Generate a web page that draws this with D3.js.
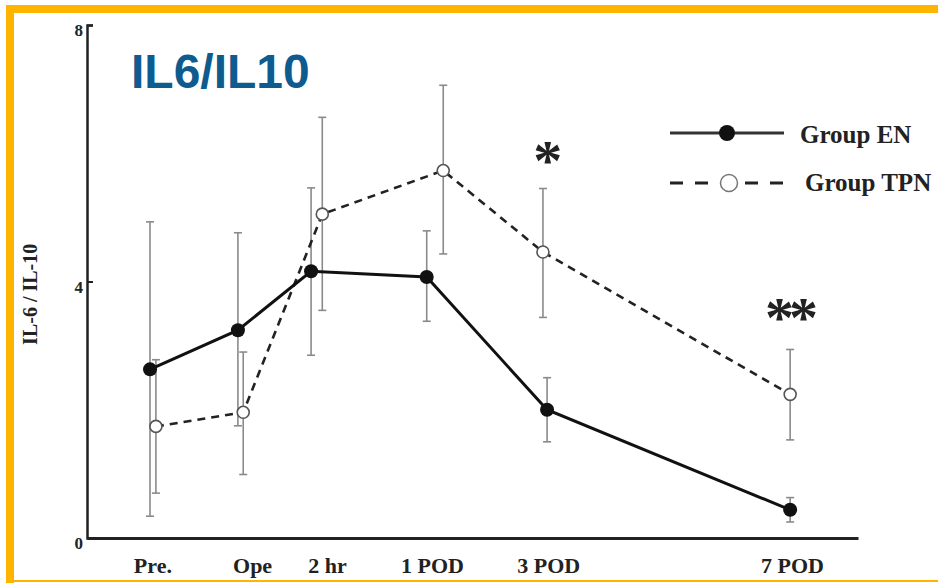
<!DOCTYPE html>
<html>
<meta charset="utf-8">
<style>
  body { margin: 0; background: #fff; }
  svg { display: block; }
</style>

<body>
  <script src="https://d3js.org/d3.v7.min.js"></script>

  <script>
    var width = 938,
        height = 583;

    // time points (x tick labels) and where they sit on the stretched time axis
    const categories = ["Pre.", "Ope", "2 hr", "1 POD", "3 POD", "7 POD"];
    const tickTime = [0.04, 1.73, 3.0, 4.78, 6.75, 10.88];

    // sampling times of each group on the same axis
    const enTime  = [0, 1.49, 2.73, 4.69, 6.73, 10.85];
    const tpnTime = [0.10, 1.58, 2.92, 4.97, 6.66, 10.85];

    // Group EN: mean, upper and lower error bar ends
    const enMean  = [2.63, 3.24, 4.16, 4.07, 2.0, 0.44];
    const enHigh  = [4.93, 4.76, 5.46, 4.79, 2.5, 0.63];
    const enLow   = [0.34, 1.75, 2.85, 3.38, 1.5, 0.25];

    // Group TPN
    const tpnMean = [1.74, 1.96, 5.05, 5.73, 4.46, 2.24];
    const tpnHigh = [2.78, 2.9, 6.56, 7.06, 5.45, 2.94];
    const tpnLow  = [0.7, 0.99, 3.55, 4.43, 3.44, 1.53];

    const yTicks = [0, 4, 8];

    // significance marks
    const sigCategory = ["3 POD", "7 POD"];
    const sigLabel = ["*", "**"];
    const sigValue = [6.0, 3.55];

    var svg = d3.select("body")
      .append("svg")
        .attr("width", width)
        .attr("height", height);

    // orange frame of the slide
    const frame = "#ffb400";
    svg.append("rect").attr("x", 6).attr("y", 5).attr("width", width - 6).attr("height", 8).attr("fill", frame);
    svg.append("rect").attr("x", 6).attr("y", 5).attr("width", 8).attr("height", height - 5).attr("fill", frame);
    svg.append("rect").attr("x", 6).attr("y", 580).attr("width", width - 6).attr("height", 2).attr("fill", frame);

    var x = d3.scaleLinear().domain([-1.068, 12.0]).range([87, 858]);
    var y = d3.scaleLinear().domain([0, 8]).range([538, 25]);

    const serif = "'Liberation Serif', 'DejaVu Serif', serif";

    // y axis
    const yAxis = svg.append("g")
      .attr("transform", `translate(${x(-1.068)},0)`)
      .call(d3.axisRight(y).tickValues(yTicks.filter(d => d > 0)).tickSize(6).tickFormat(""));
    yAxis.select(".domain").attr("stroke", "#222").attr("stroke-width", 2.5);
    yAxis.selectAll(".tick line").attr("stroke", "#222").attr("stroke-width", 2);

    svg.append("g")
      .selectAll("text")
      .data(yTicks)
      .join("text")
        .attr("x", 83)
        .attr("y", d => y(d) + 11)
        .attr("text-anchor", "end")
        .style("font", `bold 17px ${serif}`)
        .attr("fill", "#222")
        .text(d => d);

    // x axis: plain line with labels
    const xAxis = svg.append("g")
      .attr("transform", `translate(0,${y(0)})`)
      .call(d3.axisBottom(x).tickValues(tickTime).tickSize(0).tickFormat((d, i) => categories[i]));
    xAxis.select(".domain").attr("stroke", "#222").attr("stroke-width", 3);
    xAxis.selectAll(".tick text")
      .attr("dy", 0)
      .attr("y", 35)
      .attr("fill", "#222")
      .style("font", `bold 22px ${serif}`);

    // y axis title
    svg.append("text")
      .attr("transform", `translate(37,${y(3.8)}) rotate(-90)`)
      .attr("text-anchor", "middle")
      .style("font", `bold 20px ${serif}`)
      .attr("fill", "#222")
      .text("IL-6 / IL-10");

    // chart title
    svg.append("text")
      .attr("x", 131)
      .attr("y", 88)
      .style("font", "bold 48px 'Liberation Sans', Arial, sans-serif")
      .attr("fill", "#0d5b8f")
      .text("IL6/IL10");

    const en = enMean.map((v, i) => ({t: enTime[i], v: v, hi: enHigh[i], lo: enLow[i]}));
    const tpn = tpnMean.map((v, i) => ({t: tpnTime[i], v: v, hi: tpnHigh[i], lo: tpnLow[i]}));

    // error bars
    function errorBars(data) {
      const g = svg.append("g").attr("stroke", "#8a8a8a").attr("stroke-width", 1.6);
      g.selectAll(".bar").data(data).join("line")
        .attr("x1", d => x(d.t)).attr("x2", d => x(d.t))
        .attr("y1", d => y(d.hi)).attr("y2", d => y(d.lo));
      g.selectAll(".capTop").data(data).join("line")
        .attr("x1", d => x(d.t) - 4).attr("x2", d => x(d.t) + 4)
        .attr("y1", d => y(d.hi)).attr("y2", d => y(d.hi));
      g.selectAll(".capBottom").data(data).join("line")
        .attr("x1", d => x(d.t) - 4).attr("x2", d => x(d.t) + 4)
        .attr("y1", d => y(d.lo)).attr("y2", d => y(d.lo));
    }
    errorBars(en);
    errorBars(tpn);

    const line = d3.line().x(d => x(d.t)).y(d => y(d.v));

    svg.append("path")
      .datum(tpn)
      .attr("fill", "none")
      .attr("stroke", "#222")
      .attr("stroke-width", 2.6)
      .attr("stroke-dasharray", "8,6")
      .attr("d", line);

    svg.append("path")
      .datum(en)
      .attr("fill", "none")
      .attr("stroke", "#111")
      .attr("stroke-width", 3)
      .attr("d", line);

    svg.append("g")
      .selectAll("circle")
      .data(en)
      .join("circle")
        .attr("cx", d => x(d.t))
        .attr("cy", d => y(d.v))
        .attr("r", 7)
        .attr("fill", "#111");

    svg.append("g")
      .selectAll("circle")
      .data(tpn)
      .join("circle")
        .attr("cx", d => x(d.t))
        .attr("cy", d => y(d.v))
        .attr("r", 6)
        .attr("fill", "#fff")
        .attr("stroke", "#555")
        .attr("stroke-width", 1.6);

    // significance asterisks
    svg.append("g")
      .selectAll("text")
      .data(sigLabel)
      .join("text")
        .attr("x", (d, i) => x(tickTime[categories.indexOf(sigCategory[i])]) - 3)
        .attr("y", (d, i) => y(sigValue[i]) + 27)
        .attr("text-anchor", "middle")
        .attr("letter-spacing", -5)
        .style("font", `bold 58px ${serif}`)
        .attr("fill", "#222")
        .text(d => d);

    // legend
    const legend = svg.append("g");
    legend.append("line").attr("x1", 670).attr("x2", 784).attr("y1", 133).attr("y2", 133)
      .attr("stroke", "#333").attr("stroke-width", 3);
    legend.append("circle").attr("cx", 727).attr("cy", 133).attr("r", 8).attr("fill", "#111");
    legend.append("text").attr("x", 800).attr("y", 143)
      .style("font", `bold 25px ${serif}`).attr("fill", "#222").text("Group EN");

    legend.append("line").attr("x1", 670).attr("x2", 786).attr("y1", 183).attr("y2", 183)
      .attr("stroke", "#222").attr("stroke-width", 3).attr("stroke-dasharray", "13,12");
    legend.append("circle").attr("cx", 729).attr("cy", 183).attr("r", 8.5)
      .attr("fill", "#fff").attr("stroke", "#777").attr("stroke-width", 1.5);
    legend.append("text").attr("x", 805).attr("y", 191)
      .style("font", `bold 25px ${serif}`).attr("fill", "#222").text("Group TPN");
  </script>

</body>
</html>
